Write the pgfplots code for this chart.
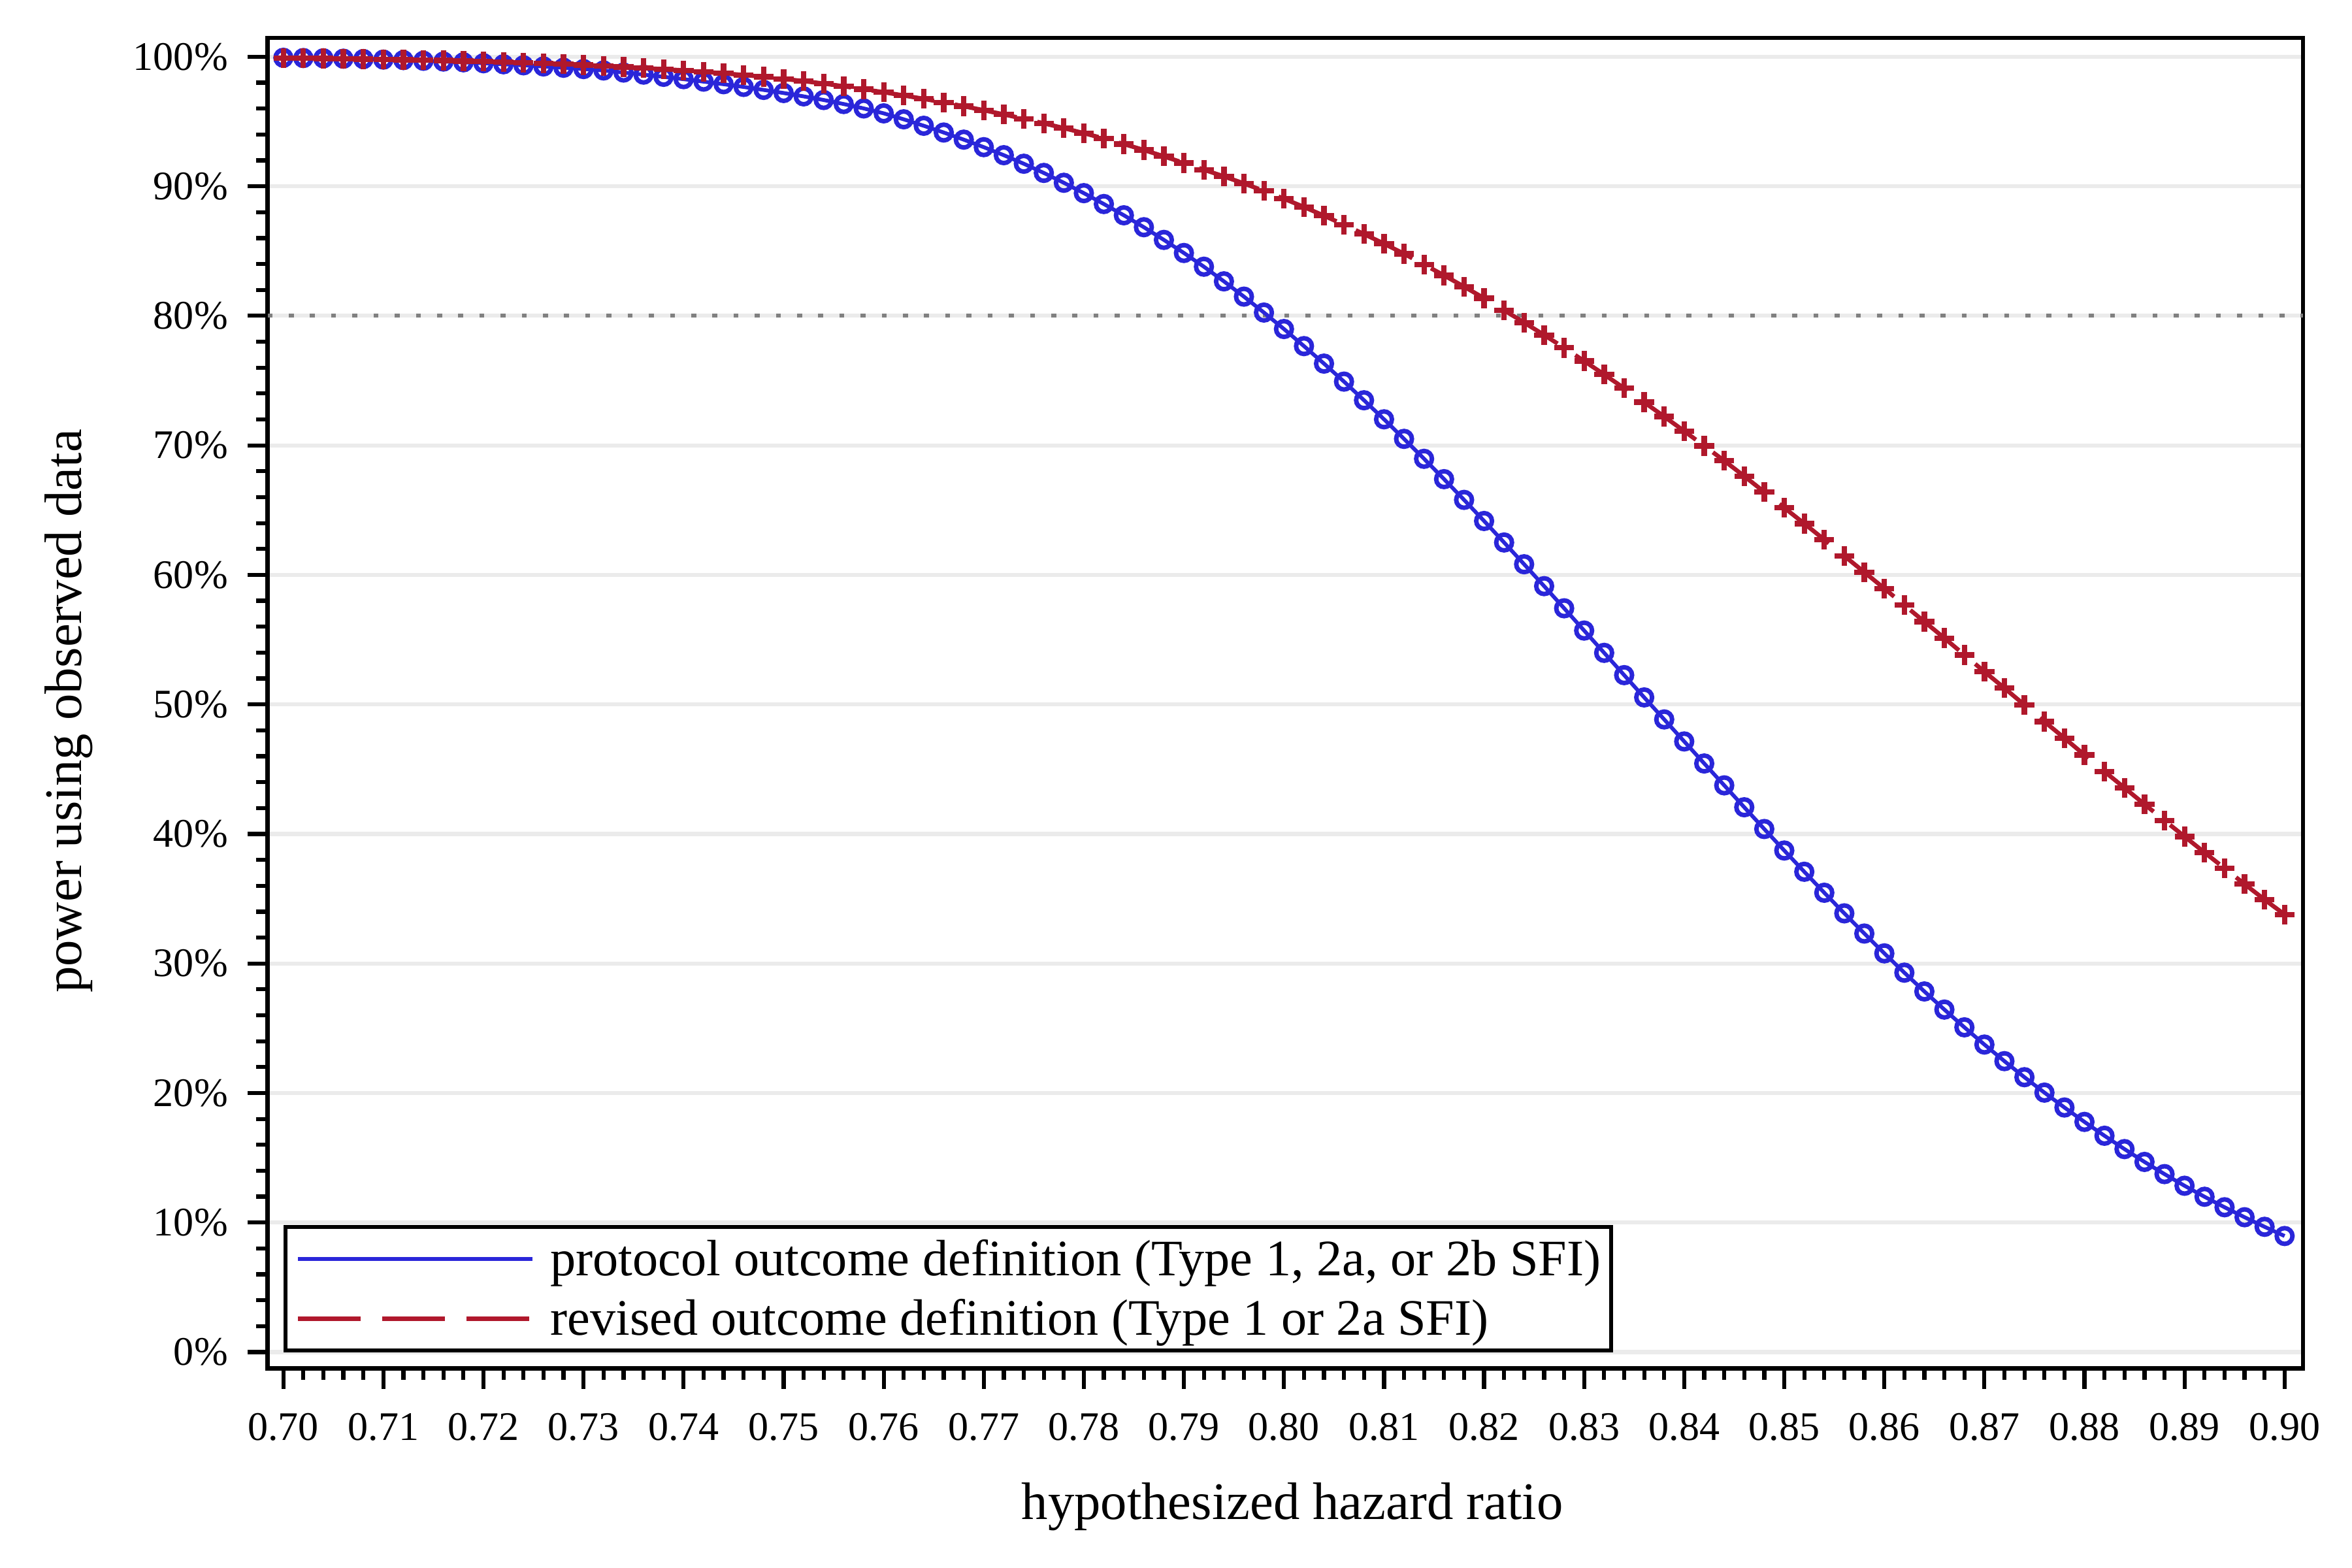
\documentclass[border=0pt]{standalone}
\usepackage{fontspec}
\setmainfont{Liberation Serif}
\usepackage{pgfplots}
\usepackage{pgfplotstable}
\pgfplotsset{compat=1.18}
\definecolor{myblue}{RGB}{42,38,217}
\definecolor{myred}{RGB}{176,24,44}
\definecolor{gridgray}{RGB}{235,235,235}
\definecolor{dotgray}{RGB}{128,128,128}

\pgfplotstableread{
hr power
0.700 99.92
0.702 99.90
0.704 99.88
0.706 99.85
0.708 99.82
0.710 99.78
0.712 99.74
0.714 99.69
0.716 99.63
0.718 99.57
0.720 99.50
0.722 99.42
0.724 99.34
0.726 99.25
0.728 99.15
0.730 99.05
0.732 98.94
0.734 98.78
0.736 98.62
0.738 98.45
0.740 98.27
0.742 98.08
0.744 97.88
0.746 97.67
0.748 97.44
0.750 97.20
0.752 96.94
0.754 96.66
0.756 96.35
0.758 96.01
0.760 95.63
0.762 95.17
0.764 94.67
0.766 94.15
0.768 93.60
0.770 93.02
0.772 92.40
0.774 91.74
0.776 91.03
0.778 90.27
0.780 89.47
0.782 88.63
0.784 87.76
0.786 86.84
0.788 85.86
0.790 84.85
0.792 83.79
0.794 82.66
0.796 81.48
0.798 80.25
0.800 78.98
0.802 77.66
0.804 76.31
0.806 74.92
0.808 73.48
0.810 72.01
0.812 70.50
0.814 68.96
0.816 67.39
0.818 65.79
0.820 64.16
0.822 62.50
0.824 60.82
0.826 59.13
0.828 57.42
0.830 55.70
0.832 53.98
0.834 52.26
0.836 50.54
0.838 48.84
0.840 47.14
0.842 45.44
0.844 43.75
0.846 42.06
0.848 40.38
0.850 38.72
0.852 37.08
0.854 35.46
0.856 33.87
0.858 32.31
0.860 30.78
0.862 29.29
0.864 27.84
0.866 26.44
0.868 25.07
0.870 23.74
0.872 22.46
0.874 21.22
0.876 20.03
0.878 18.88
0.880 17.77
0.882 16.70
0.884 15.67
0.886 14.68
0.888 13.74
0.890 12.84
0.892 11.99
0.894 11.18
0.896 10.41
0.898 9.67
0.900 8.96
}\protocol

\pgfplotstableread{
hr power
0.700 99.89
0.702 99.88
0.704 99.86
0.706 99.84
0.708 99.82
0.710 99.80
0.712 99.77
0.714 99.74
0.716 99.71
0.718 99.67
0.720 99.63
0.722 99.59
0.724 99.54
0.726 99.49
0.728 99.43
0.730 99.36
0.732 99.29
0.734 99.21
0.736 99.13
0.738 99.04
0.740 98.95
0.742 98.84
0.744 98.72
0.746 98.59
0.748 98.45
0.750 98.29
0.752 98.12
0.754 97.93
0.756 97.72
0.758 97.49
0.760 97.26
0.762 97.01
0.764 96.75
0.766 96.47
0.768 96.18
0.770 95.87
0.772 95.55
0.774 95.21
0.776 94.86
0.778 94.49
0.780 94.10
0.782 93.69
0.784 93.26
0.786 92.80
0.788 92.31
0.790 91.80
0.792 91.28
0.794 90.76
0.796 90.22
0.798 89.64
0.800 89.04
0.802 88.40
0.804 87.73
0.806 87.03
0.808 86.31
0.810 85.57
0.812 84.79
0.814 83.96
0.816 83.12
0.818 82.25
0.820 81.36
0.822 80.43
0.824 79.48
0.826 78.52
0.828 77.53
0.830 76.51
0.832 75.47
0.834 74.41
0.836 73.33
0.838 72.22
0.840 71.10
0.842 69.96
0.844 68.81
0.846 67.62
0.848 66.40
0.850 65.18
0.852 63.96
0.854 62.72
0.856 61.46
0.858 60.21
0.860 58.95
0.862 57.66
0.864 56.39
0.866 55.12
0.868 53.82
0.870 52.53
0.872 51.26
0.874 49.96
0.876 48.67
0.878 47.40
0.880 46.10
0.882 44.82
0.884 43.56
0.886 42.29
0.888 41.04
0.890 39.80
0.892 38.57
0.894 37.35
0.896 36.13
0.898 34.93
0.900 33.78
}\revised

\begin{document}
\begin{tikzpicture}
\useasboundingbox (-59.4pt,-44.3pt) rectangle (462.6pt,303.7pt);
\begin{axis}[
  at={(0pt,0pt)}, anchor=south west,
  scale only axis, width=451.7pt, height=295.3pt,
  xmin=0.69843, xmax=0.90183, ymin=-1.26, ymax=101.46,
  xtick={0.70,0.71,0.72,0.73,0.74,0.75,0.76,0.77,0.78,0.79,0.80,0.81,0.82,0.83,0.84,0.85,0.86,0.87,0.88,0.89,0.90},
  xticklabels={0.70,0.71,0.72,0.73,0.74,0.75,0.76,0.77,0.78,0.79,0.80,0.81,0.82,0.83,0.84,0.85,0.86,0.87,0.88,0.89,0.90},
  ytick={0,10,20,30,40,50,60,70,80,90,100},
  yticklabels={0\%,10\%,20\%,30\%,40\%,50\%,60\%,70\%,80\%,90\%,100\%},
  minor x tick num=4, minor y tick num=4,
  tick align=outside, tick pos=left,
  major tick length=4.5pt, minor tick length=2.6pt,
  every tick/.style={black, line width=0.9pt},
  axis line style={line width=0.95pt},
  ymajorgrids, grid style={gridgray, line width=0.9pt},
  tick label style={font=\fontsize{9}{10}\selectfont},
  xticklabel style={yshift=-1.9pt},
  yticklabel style={xshift=-0.8pt},
  label style={font=\fontsize{11.7}{13}\selectfont},
  xlabel={hypothesized hazard ratio},
  ylabel={power using observed data},
  xlabel style={at={(axis description cs:0.5035,-0.1134)}, anchor=base},
  ylabel style={at={(axis description cs:-0.0915,0.494)}, anchor=base},
  legend image code/.code={\draw[#1, mark=none] (0pt,0pt) -- (52pt,0pt);},
  legend cell align=left,
  legend style={at={(axis description cs:0.0077,0.0118)}, anchor=south west,
    draw=black, line width=0.9pt, fill=white,
    inner xsep=2.3pt, inner ysep=0.4pt, row sep=0pt, column sep=3.6pt,
    nodes={inner xsep=0pt, inner ysep=0pt, text height=10.3pt, text depth=3.0pt},
    font=\fontsize{11.35}{13}\selectfont},
]
\addplot[forget plot, dotgray, line width=0.9pt, dash pattern=on 1.1pt off 3.6pt] coordinates {(0.69843,80) (0.90183,80)};
\addplot[myblue, line width=0.85pt, mark=o, mark size=1.75pt, mark options={solid, line width=1pt}] table[x=hr, y=power] {\protocol};
\addlegendentry{protocol outcome definition (Type 1, 2a, or 2b SFI)}
\addplot[myred, line width=0.95pt, dash pattern=on 14pt off 4.7pt, mark=+, mark size=2.2pt, mark options={solid, line width=1.2pt}] table[x=hr, y=power] {\revised};
\addlegendentry{revised outcome definition (Type 1 or 2a SFI)}
\end{axis}
\end{tikzpicture}
\end{document}
